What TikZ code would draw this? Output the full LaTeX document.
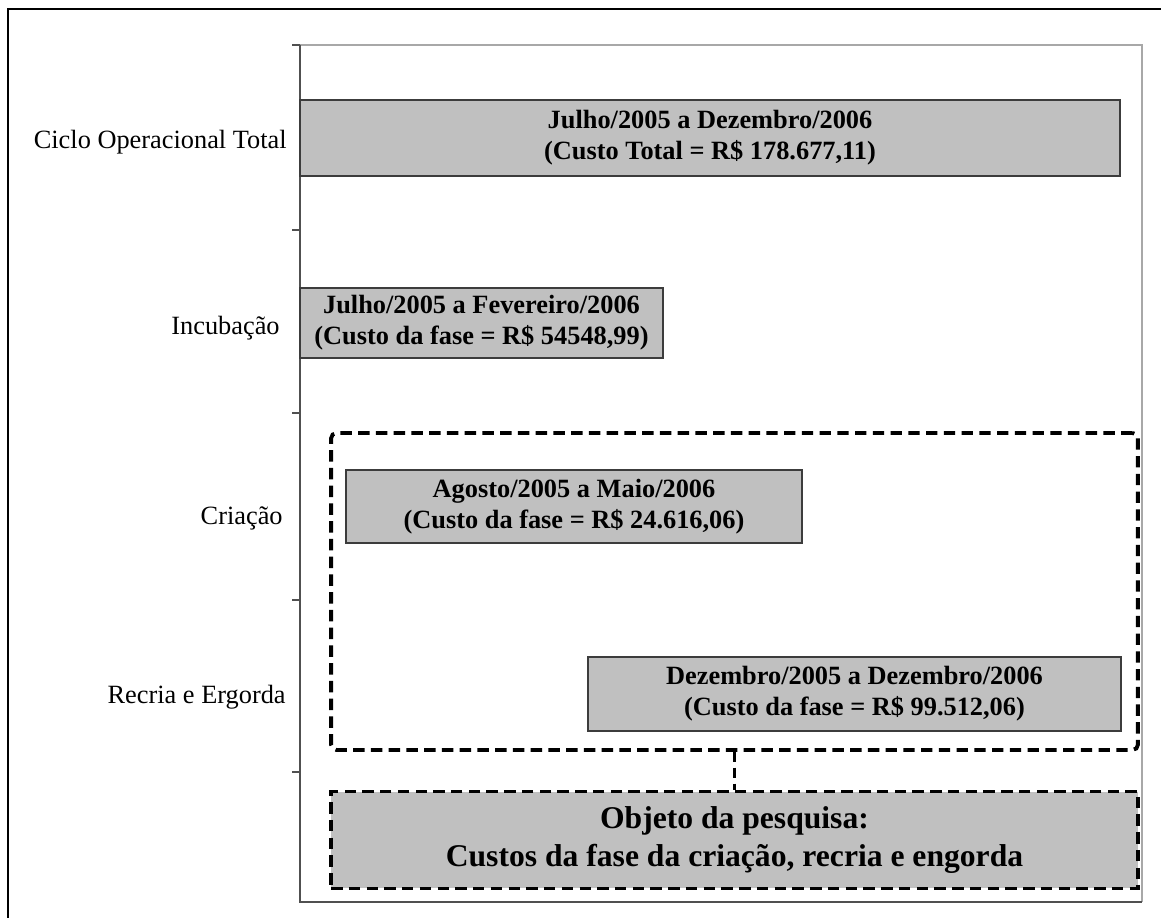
\documentclass[tikz,border=0pt]{standalone}
\usepackage{fontspec}
\setmainfont{Liberation Serif}
\usepackage{xcolor}
\usepackage{tikz}
\definecolor{BarGray}{HTML}{C0C0C0}
\definecolor{BarEdge}{HTML}{3C3C3C}
\definecolor{AxisGray}{HTML}{505050}
\definecolor{FrameGray}{HTML}{A8A8A8}

\begin{document}
\begin{tikzpicture}[x=0.02cm, y=-0.02cm,
		bar/.style={draw=BarEdge, fill=BarGray, line width=1.1pt, inner sep=0pt, align=center, font=\fontsize{15}{17.5}\selectfont\bfseries},
		phase/.style={anchor=east, inner sep=0pt, font=\fontsize{15}{18}\selectfont},
		dashbox/.style={draw=black, line width=2.2pt, dash pattern=on 6.5pt off 3.6pt, inner sep=0pt, minimum width=16.14cm},
		axis/.style={AxisGray, line width=1.1pt}]
			\useasboundingbox (0,0) rectangle (1161,918);
			% frame
			\draw[line width=1.2pt] (8,918) -- (8,9) -- (1161,9);

			% plot area
			\draw[FrameGray, line width=1.1pt] (300,45) -- (1142,45) -- (1142,902);
			\draw[axis] (300,45) -- (300,902) -- (1142,902);
			\foreach \y in {45,230,413,600,772}{
				\draw[axis] (292,\y) -- (300,\y);
			}

			% phases
			\node[phase] (lciclo) at (287,142) {Ciclo Operacional Total};
			\node[phase] (lincub) at (280,328) {Incubação};
			\node[phase] (lcriacao) at (283,518) {Criação};
			\node[phase] (lrecria) at (286,697) {Recria e Ergorda};

			% bars
			\node[bar, minimum width=16.4cm, minimum height=1.52cm] (ciclo) at (710,138) {Julho/2005 a Dezembro/2006\\(Custo Total = R\$ 178.677,11)};
			\node[bar, minimum width=7.26cm, minimum height=1.4cm] (incub) at (481.5,323) {Julho/2005 a Fevereiro/2006\\(Custo da fase = R\$ 54548,99)};
			\node[bar, minimum width=9.12cm, minimum height=1.46cm] (criacao) at (574,506.5) {Agosto/2005 a Maio/2006\\(Custo da fase = R\$ 24.616,06)};
			\node[bar, minimum width=10.66cm, minimum height=1.48cm] (recria) at (854.5,694) {Dezembro/2005 a Dezembro/2006\\(Custo da fase = R\$ 99.512,06)};

			% research object
			\node[dashbox, rounded corners=3pt, minimum height=6.34cm] (regiao) at (734.5,591.5) {};
			\node[dashbox, fill=BarGray, minimum height=1.94cm, align=center, font=\fontsize{18}{22}\selectfont\bfseries] (objeto) at (734.5,840) {Objeto da pesquisa:\\Custos da fase da criação, recria e engorda};
			\draw[line width=2.2pt, dash pattern=on 6pt off 3pt] (regiao.south) -- (objeto.north);

		\end{tikzpicture}
\end{document}
